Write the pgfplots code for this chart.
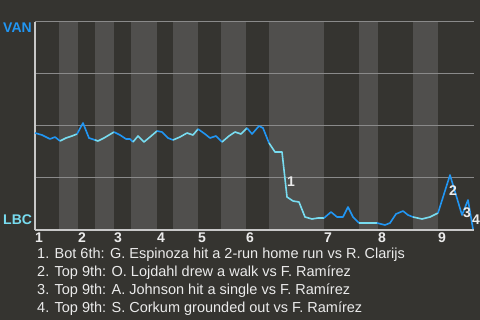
\documentclass[border=0pt]{standalone}
\usepackage{pgfplots}
\pgfplotsset{compat=1.18}
\usepackage{fontspec}
\setmainfont{Liberation Sans}
\definecolor{bgc}{RGB}{53,52,48}
\definecolor{bandc}{RGB}{80,79,77}
\definecolor{gridc}{RGB}{138,138,138}
\definecolor{axc}{RGB}{200,200,200}
\definecolor{vanc}{RGB}{33,150,243}
\definecolor{lbcc}{RGB}{120,220,240}
\definecolor{txt}{RGB}{235,235,235}
\begin{document}
\begin{tikzpicture}
\begin{axis}[
  at={(35bp,90bp)}, anchor=south west,
  scale only axis, width=439bp, height=208bp,
  xmin=35, xmax=474, ymin=0, ymax=208,
  set layers, clip=false,
  axis x line*=bottom, axis y line*=left,
  axis line style={draw=axc, line width=1.2bp},
  ytick={52,104,156,208}, yticklabels={},
  ymajorgrids, grid style={draw=gridc, line width=1bp},
  xtick={35,78,114,157,198,246,324,378,438},
  xticklabels={1,2,3,4,5,6,7,8,9},
  major tick length=0pt,
  xticklabel style={anchor=north west, inner sep=0pt, yshift=-2.5bp, text=txt,
    font=\fontsize{14bp}{14bp}\selectfont\bfseries},
  every axis plot/.append style={line width=1.6bp, line join=round},
]
% page background (whole picture)
\addplot[on layer=axis background, fill=bgc, draw=none, line width=0pt] coordinates {(0,-90)(0,230)(480,230)(480,-90)} -- cycle;
% alternating half-innings (bottom halves shaded)
\addplot[on layer=axis background, fill=bandc, draw=none] coordinates {(59,208)(78,208)} \closedcycle;
\addplot[on layer=axis background, fill=bandc, draw=none] coordinates {(95,208)(114,208)} \closedcycle;
\addplot[on layer=axis background, fill=bandc, draw=none] coordinates {(131,208)(157,208)} \closedcycle;
\addplot[on layer=axis background, fill=bandc, draw=none] coordinates {(173,208)(198,208)} \closedcycle;
\addplot[on layer=axis background, fill=bandc, draw=none] coordinates {(221,208)(246,208)} \closedcycle;
\addplot[on layer=axis background, fill=bandc, draw=none] coordinates {(269,208)(324,208)} \closedcycle;
\addplot[on layer=axis background, fill=bandc, draw=none] coordinates {(359,208)(378,208)} \closedcycle;
\addplot[on layer=axis background, fill=bandc, draw=none] coordinates {(413,208)(438,208)} \closedcycle;
% win probability line
\addplot[vanc] coordinates {(35,97)(42,95)(50,91)(55,93)(60,89)};
\addplot[lbcc] coordinates {(60,89)(66,92)(72,94)(77,96)};
\addplot[vanc] coordinates {(77,96)(83,107)(89,92)(95,90)};
\addplot[lbcc] coordinates {(95,90)(98,89)(104,92)(109,95)(114,98)};
\addplot[vanc] coordinates {(114,98)(120,95)(126,91)(130,91)(133,88)};
\addplot[lbcc] coordinates {(133,88)(138,94)(144,88)(150,93)(157,99)};
\addplot[vanc] coordinates {(157,99)(162,98)(168,92)(173,90)};
\addplot[lbcc] coordinates {(173,90)(180,93)(187,97)(193,95)(198,101)};
\addplot[vanc] coordinates {(198,101)(205,96)(210,92)(216,94)(222,88)};
\addplot[lbcc] coordinates {(222,88)(229,94)(235,98)(241,96)(247,102)};
\addplot[vanc] coordinates {(247,102)(252,96)(259,104)(263,102)(269,87)};
\addplot[lbcc] coordinates {(269,87)(275,78)(282,78)(287,33)(293,29)(299,28)(305,13)(312,11)(318,12)(324,12)};
\addplot[vanc] coordinates {(324,12)(331,18)(337,13)(343,13)(348,23)(353,13)(359,7)};
\addplot[lbcc] coordinates {(359,7)(367,7)(377,7)};
\addplot[vanc] coordinates {(377,7)(385,5)(390,7)(396,16)(403,19)(408,15)(413,13)};
\addplot[lbcc] coordinates {(413,13)(422,11)(430,13)(438,17)};
\addplot[vanc] coordinates {(438,17)(450,55)(462,15)(468,30)(473,1)};
% event markers
\begin{scope}[every node/.style={text=txt, inner sep=0pt, font=\fontsize{14bp}{14bp}\selectfont\bfseries}]
\node at (axis cs:291,48) {1};
\node at (axis cs:453,39) {2};
\node at (axis cs:467,17) {3};
\node at (axis cs:476,10) {4};
\end{scope}
\end{axis}
\node[anchor=base west, inner sep=0pt, text=vanc, font=\fontsize{14bp}{14bp}\selectfont\bfseries] at (3bp,287bp) {VAN};
\node[anchor=base west, inner sep=0pt, text=lbcc, font=\fontsize{14bp}{14bp}\selectfont\bfseries] at (3bp,95bp) {LBC};
\begin{scope}[every node/.style={anchor=base west, inner sep=0pt, text=txt, font=\fontsize{14.5bp}{17bp}\selectfont}]
\node at (37bp,61.5bp) {1. Bot 6th: G. Espinoza hit a 2-run home run vs R. Clarijs};
\node at (37bp,43.8bp) {2. Top 9th: O. Lojdahl drew a walk vs F. Ramírez};
\node at (37bp,26bp) {3. Top 9th: A. Johnson hit a single vs F. Ramírez};
\node at (37bp,8bp) {4. Top 9th: S. Corkum grounded out vs F. Ramírez};
\end{scope}
\pgfresetboundingbox
\path[use as bounding box] (0bp,0bp) rectangle (480bp,320bp);
\end{tikzpicture}
\end{document}
